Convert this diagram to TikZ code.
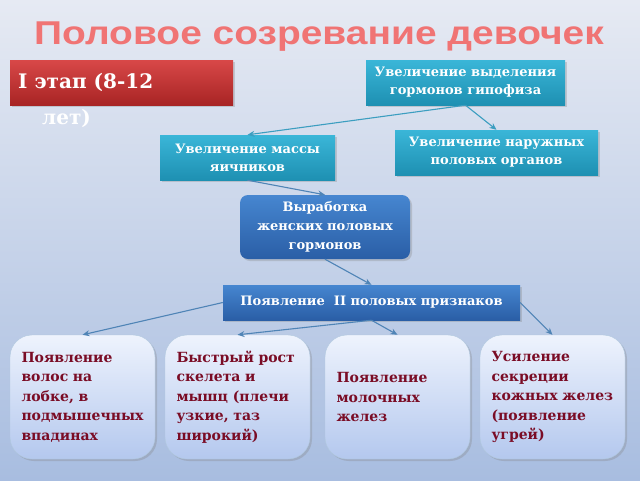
\documentclass[tikz,border=0pt]{standalone}
\usepackage{fontspec}
\setmainfont{DejaVu Serif}
\newfontfamily\titlefont{Liberation Sans}
\usetikzlibrary{arrows.meta,shadows}

\definecolor{bgtop}{HTML}{E6EAF3}
\definecolor{bgbot}{HTML}{A8BDE0}
\definecolor{titlered}{HTML}{F07474}
\definecolor{stagetop}{HTML}{D84848}
\definecolor{stagebot}{HTML}{A82424}
\definecolor{tealtop}{HTML}{3AB6D8}
\definecolor{tealbot}{HTML}{1E90B2}
\definecolor{bluetop}{HTML}{4686D0}
\definecolor{bluebot}{HTML}{2A5EA6}
\definecolor{signtop}{HTML}{EEF3FD}
\definecolor{signbot}{HTML}{B4C8EE}
\definecolor{signtext}{HTML}{7A0C25}
\definecolor{arrowblue}{HTML}{4F84B6}
\definecolor{arrowteal}{HTML}{3C9EC0}

\tikzset{
  tealbox/.style={rectangle, top color=tealtop, bottom color=tealbot, text=white,
    font=\bfseries\fontsize{13}{18}\selectfont, align=center, inner sep=0pt,
    drop shadow={opacity=0.3, shadow xshift=2pt, shadow yshift=-2pt}},
  bluebox/.style={rectangle, top color=bluetop, bottom color=bluebot, text=white,
    font=\bfseries\fontsize{13}{19}\selectfont, align=center, inner sep=0pt,
    drop shadow={opacity=0.3, shadow xshift=2pt, shadow yshift=-2pt}},
  signbox/.style={rectangle, rounded corners=22pt, top color=signtop, bottom color=signbot,
    draw=arrowblue!45, text=signtext, font=\bfseries\fontsize{14}{19.5}\selectfont,
    align=left, text width=122pt, inner sep=0pt, minimum width=145pt, minimum height=124pt,
    drop shadow={opacity=0.3, shadow xshift=2pt, shadow yshift=-2pt}},
  link/.style={-{Stealth[length=7pt,width=6pt]}, draw=arrowblue, line width=1.1pt},
  tlink/.style={link, draw=arrowteal}
}

\begin{document}
\begin{tikzpicture}[x=1pt, y=-1pt]
  \useasboundingbox[top color=bgtop, bottom color=bgbot] (0,0) rectangle (640,480);

  \node[text=titlered, font=\titlefont\bfseries\fontsize{33}{36}\selectfont] (title) at (319,37)
    {\scalebox{1.18}[1]{Половое созревание девочек}};

  \node[rectangle, top color=stagetop, bottom color=stagebot, minimum width=223pt, minimum height=45pt,
    drop shadow={opacity=0.3, shadow xshift=2pt, shadow yshift=-2pt}] (stage) at (121.5,82.5) {};
  \node[anchor=north west, text=white, align=left, inner sep=0pt,
    font=\bfseries\fontsize{20}{36}\selectfont] (stagetext) at (18,73) {I этап (8-12\\\hspace*{24pt}лет)};

  \node[tealbox, minimum width=199pt, minimum height=45pt] (gipo) at (465.5,82.5) {Увеличение выделения\\гормонов гипофиза};
  \node[tealbox, minimum width=175pt, minimum height=45pt] (massa) at (247.5,157.5) {Увеличение массы\\яичников};
  \node[tealbox, minimum width=203pt, minimum height=45pt] (naruzh) at (496.5,152.5) {Увеличение наружных\\половых органов};

  \node[bluebox, rounded corners=8pt, minimum width=170pt, minimum height=64pt] (vyrab) at (325,227) {Выработка\\женских половых\\гормонов};
  \node[bluebox, minimum width=297pt, minimum height=35pt] (priz) at (371.5,302.5) {Появление~~II половых признаков};

  \node[signbox] (hair) at (82.5,397) {Появление\\волос на\\лобке, в\\подмышечных\\впадинах};
  \node[signbox] (bone) at (237.5,397) {Быстрый рост\\скелета и\\мышц (плечи\\узкие, таз\\широкий)};
  \node[signbox] (milk) at (397.5,397) {Появление\\молочных\\желез};
  \node[signbox] (skin) at (552.5,397) {Усиление\\секреции\\кожных желез\\(появление\\угрей)};

  % arrows
  \draw[tlink] (gipo.south) -- (massa.north);
  \draw[tlink] (gipo.south) -- (naruzh.north);
  \draw[link] (massa.south) -- (vyrab.north);
  \draw[link] (vyrab.south) -- (priz.north);
  \draw[link] (priz.west) -- (hair.north);
  \draw[link] (priz.south) -- (bone.north);
  \draw[link] (priz.south) -- (milk.north);
  \draw[link] (priz.east) -- (skin.north);
\end{tikzpicture}
\end{document}
